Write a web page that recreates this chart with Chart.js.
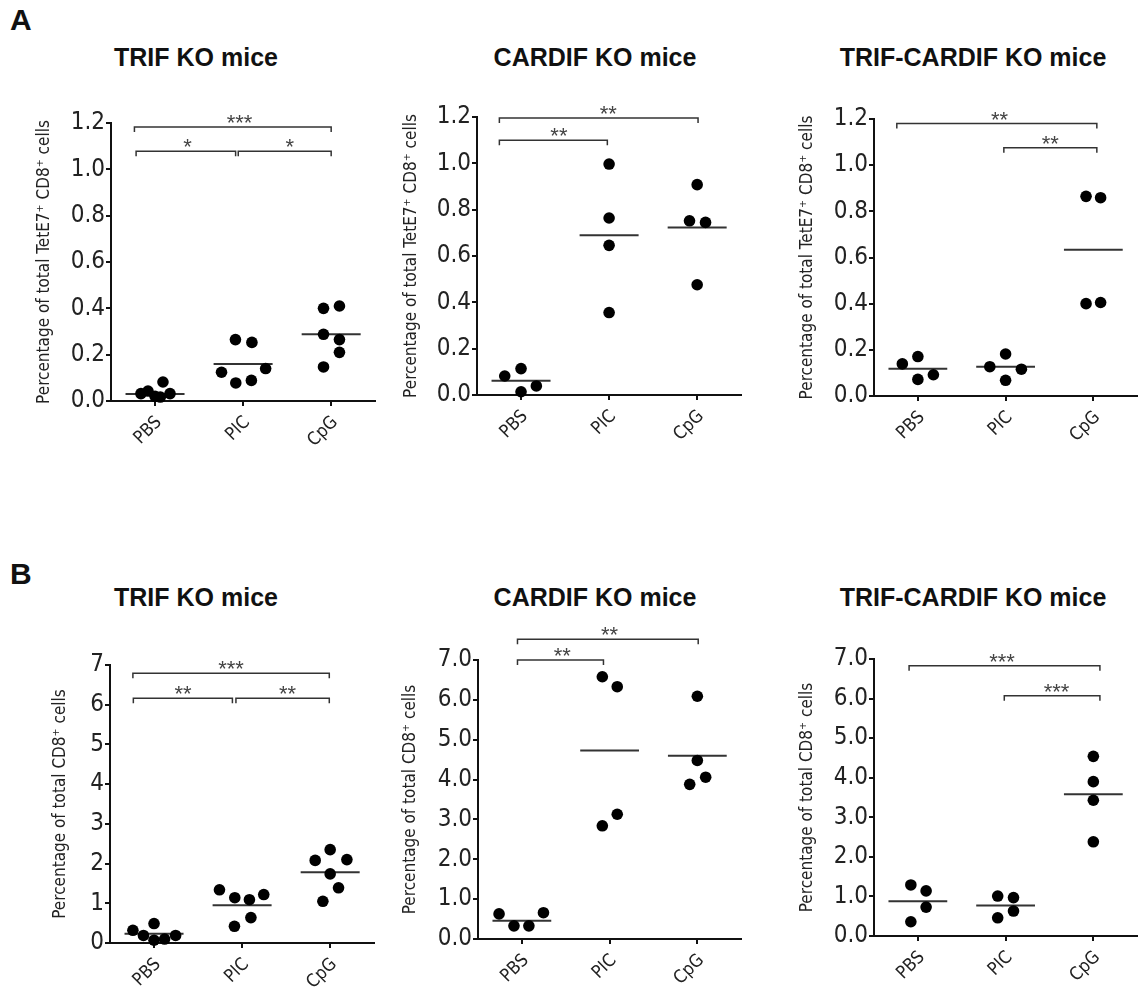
<!DOCTYPE html>
<html>
<head>
<meta charset="utf-8">
<script src="https://cdn.jsdelivr.net/npm/chart.js@4/dist/chart.umd.min.js"></script>
<style>
  body { margin: 0; background: #fff; width: 1142px; height: 994px; position: relative; overflow: hidden;
         font-family: "Liberation Sans", Arial, sans-serif; }
  canvas { position: absolute; }
  .ttl { position: absolute; font-weight: bold; font-size: 25px; line-height: 25px; color: #111;
         white-space: nowrap; transform: translateX(-50%); }
  .lt { position: absolute; font-weight: bold; font-size: 30px; line-height: 30px; color: #111; }
</style>
</head>
<body>
<div class="lt" style="left:10px;top:5px">A</div>
<div class="lt" style="left:10px;top:559px">B</div>
<div class="ttl" style="left:196px;top:45px">TRIF KO mice</div>
<div class="ttl" style="left:595px;top:45px">CARDIF KO mice</div>
<div class="ttl" style="left:973px;top:45px">TRIF-CARDIF KO mice</div>
<div class="ttl" style="left:196px;top:585px">TRIF KO mice</div>
<div class="ttl" style="left:595px;top:585px">CARDIF KO mice</div>
<div class="ttl" style="left:973px;top:585px">TRIF-CARDIF KO mice</div>

<script>
const groups = ['PBS', 'PIC', 'CpG'];
const titleA = 'Percentage of total TetE7\u207A CD8\u207A cells';
const titleB = 'Percentage of total CD8\u207A cells';

// A - TRIF KO
const a1PBS = [0.032, 0.043, 0.02, 0.082, 0.032, 0.017];
const a1PIC = [0.265, 0.253, 0.124, 0.078, 0.089, 0.14];
const a1CpG = [0.40, 0.41, 0.288, 0.265, 0.21, 0.147];
const a1Med = [0.03, 0.16, 0.288];
const a1Jit = [[-0.16, -0.08, 0, 0.09, 0.17, 0.06], [-0.087, 0.10, -0.245, -0.083, 0.094, 0.256], [-0.087, 0.094, -0.087, 0.094, 0.094, -0.087]];
const a1Br = [
  { x1: -0.234, x2: 2.0, y: 1.183, label: '***', lx: 0.96 },
  { x1: -0.215, x2: 0.915, y: 1.078, label: '*', lx: 0.37 },
  { x1: 0.945, x2: 2.0, y: 1.078, label: '*', lx: 1.53 }
];

// A - CARDIF KO
const a2PBS = [0.082, 0.114, 0.014, 0.039];
const a2PIC = [0.997, 0.764, 0.646, 0.356];
const a2CpG = [0.908, 0.752, 0.745, 0.476];
const a2Med = [0.062, 0.69, 0.723];
const a2Jit = [[-0.185, 0, 0, 0.174], [0, 0, 0, 0], [0, -0.087, 0.095, 0]];
const a2Br = [
  { x1: -0.246, x2: 2.01, y: 1.196, label: '**', lx: 0.99 },
  { x1: -0.246, x2: 0.98, y: 1.10, label: '**', lx: 0.43 }
];

// A - TRIF-CARDIF KO
const a3PBS = [0.139, 0.171, 0.072, 0.092];
const a3PIC = [0.127, 0.182, 0.068, 0.116];
const a3CpG = [0.865, 0.859, 0.40, 0.405];
const a3Med = [0.118, 0.127, 0.634];
const a3Jit = [[-0.177, 0, 0, 0.177], [-0.18, 0, 0, 0.18], [-0.083, 0.083, -0.083, 0.083]];
const a3Br = [
  { x1: -0.24, x2: 2.04, y: 1.18, label: '**', lx: 0.93 },
  { x1: 0.98, x2: 2.04, y: 1.075, label: '**', lx: 1.51 }
];

// B - TRIF KO
const b1PBS = [0.32, 0.49, 0.19, 0.07, 0.10, 0.19];
const b1PIC = [1.34, 1.14, 1.09, 1.22, 0.42, 0.64];
const b1CpG = [2.35, 2.08, 2.10, 1.74, 1.39, 1.05];
const b1Med = [0.235, 0.95, 1.78];
const b1Jit = [[-0.24, 0, -0.12, 0, 0.12, 0.245], [-0.257, -0.083, 0.083, 0.246, -0.087, 0.10], [0, -0.17, 0.19, 0, 0.095, -0.083]];
const b1Br = [
  { x1: -0.24, x2: 1.99, y: 6.79, label: '***', lx: 0.875 },
  { x1: -0.235, x2: 0.89, y: 6.16, label: '**', lx: 0.33 },
  { x1: 0.93, x2: 1.99, y: 6.16, label: '**', lx: 1.515 }
];

// B - CARDIF KO
const b2PBS = [0.63, 0.33, 0.33, 0.66];
const b2PIC = [6.58, 6.33, 2.84, 3.13];
const b2CpG = [6.09, 4.48, 3.88, 4.06];
const b2Med = [0.46, 4.73, 4.6];
const b2Jit = [[-0.26, -0.09, 0.08, 0.246], [-0.083, 0.087, -0.083, 0.087], [0, 0, -0.087, 0.095]];
const b2Br = [
  { x1: -0.05, x2: 2.01, y: 7.52, label: '**', lx: 1.0 },
  { x1: -0.05, x2: 0.93, y: 7.0, label: '**', lx: 0.46 }
];

// B - TRIF-CARDIF KO
const b3PBS = [1.29, 1.14, 0.73, 0.36];
const b3PIC = [1.01, 0.97, 0.63, 0.46];
const b3CpG = [4.54, 3.90, 3.43, 2.38];
const b3Med = [0.88, 0.77, 3.58];
const b3Jit = [[-0.08, 0.094, 0.094, -0.08], [-0.09, 0.09, 0.09, -0.09], [0, 0, 0, 0]];
const b3Br = [
  { x1: -0.1, x2: 2.075, y: 6.83, label: '***', lx: 0.96 },
  { x1: 0.985, x2: 2.075, y: 6.07, label: '***', lx: 1.58 }
];

// plot boxes (axis left, top, zero line, right) and where the axis title sits
const panels = [
  { L: 111, T: 122.7, B: 400.7, R: 376.5, max: 1.2, step: 0.2, dec: 1, yt: titleA, tOff: 66, vals: [a1PBS, a1PIC, a1CpG], jit: a1Jit, med: a1Med, br: a1Br },
  { L: 476.7, T: 117.3, B: 395, R: 742.7, max: 1.2, step: 0.2, dec: 1, yt: titleA, tOff: 65, vals: [a2PBS, a2PIC, a2CpG], jit: a2Jit, med: a2Med, br: a2Br },
  { L: 874.3, T: 119.3, B: 396, R: 1139, max: 1.2, step: 0.2, dec: 1, yt: titleA, tOff: 66, vals: [a3PBS, a3PIC, a3CpG], jit: a3Jit, med: a3Med, br: a3Br },
  { L: 110, T: 665, B: 942.7, R: 376, max: 7, step: 1, dec: 0, yt: titleB, tOff: 49, vals: [b1PBS, b1PIC, b1CpG], jit: b1Jit, med: b1Med, br: b1Br },
  { L: 477.7, T: 660, B: 939, R: 743, max: 7, step: 1, dec: 1, yt: titleB, tOff: 67, vals: [b2PBS, b2PIC, b2CpG], jit: b2Jit, med: b2Med, br: b2Br },
  { L: 874.3, T: 659.3, B: 936, R: 1139, max: 7, step: 1, dec: 1, yt: titleB, tOff: 66, vals: [b3PBS, b3PIC, b3CpG], jit: b3Jit, med: b3Med, br: b3Br }
];

Chart.defaults.font.family = '"Liberation Sans", Arial, sans-serif';
const narrow = '"Liberation Sans Narrow", "Arial Narrow", "DejaVu Sans Condensed", "Liberation Sans", sans-serif';

const YW = 80, PADTOP = 70, XH = 66, PADB = 4, PADR = 4;
const MED_HALF = 0.335;

// significance brackets, drawn through the chart's own scales
const bracketPlugin = {
  id: 'brackets',
  afterDatasetsDraw(chart, args, opts) {
    const { ctx, scales: { x, y } } = chart;
    ctx.save();
    opts.items.forEach(b => {
      const x1 = x.getPixelForValue(b.x1), x2 = x.getPixelForValue(b.x2), yy = y.getPixelForValue(b.y);
      ctx.strokeStyle = '#333';
      ctx.lineWidth = 1.5;
      ctx.beginPath();
      ctx.moveTo(x1, yy + 5); ctx.lineTo(x1, yy); ctx.lineTo(x2, yy); ctx.lineTo(x2, yy + 5);
      ctx.stroke();
      ctx.fillStyle = '#444';
      ctx.font = '22px "Liberation Sans", Arial, sans-serif';
      ctx.textAlign = 'center';
      ctx.textBaseline = 'alphabetic';
      ctx.fillText(b.label, x.getPixelForValue(b.lx), yy + 3);
    });
    ctx.restore();
  }
};

panels.forEach(p => {
  const cv = document.createElement('canvas');
  const left = Math.round(p.L - YW), top = Math.round(p.T - PADTOP);
  const w = Math.round(p.R - p.L + YW + PADR), h = Math.round(p.B - p.T + PADTOP + XH + PADB);
  cv.width = w; cv.height = h;
  cv.style.left = left + 'px'; cv.style.top = top + 'px';
  cv.style.width = w + 'px'; cv.style.height = h + 'px';
  document.body.appendChild(cv);

  const pts = [];
  p.vals.forEach((arr, g) => arr.forEach((v, k) => pts.push({ x: g + p.jit[g][k], y: v })));

  const datasets = [{
    data: pts, pointRadius: 5.8, pointBackgroundColor: '#000', pointBorderWidth: 0,
    showLine: false, clip: false
  }];
  p.med.forEach((m, g) => datasets.push({
    data: [{ x: g - MED_HALF, y: m }, { x: g + MED_HALF, y: m }],
    showLine: true, pointRadius: 0, borderColor: '#333', borderWidth: 2, clip: false
  }));

  const nT = Math.round(p.max / p.step);
  new Chart(cv, {
    type: 'scatter',
    data: { datasets },
    options: {
      responsive: false,
      animation: false,
      layout: { padding: { top: PADTOP, right: PADR, bottom: PADB, left: 0 } },
      plugins: { legend: { display: false }, tooltip: { enabled: false }, brackets: { items: p.br } },
      scales: {
        x: {
          type: 'linear', min: -0.5, max: 2.5,
          afterBuildTicks: s => { s.ticks = groups.map((g, i) => ({ value: i })); },
          afterFit: s => { s.height = XH; },
          ticks: { callback: v => groups[v], minRotation: 45, maxRotation: 45, autoSkip: false,
                   font: { size: 18, family: narrow }, color: '#222', padding: 6, labelOffset: 4 },
          grid: { drawOnChartArea: false, tickLength: 5, color: '#111', lineWidth: 2 },
          border: { color: '#111', width: 2 }
        },
        y: {
          min: 0, max: p.max,
          afterBuildTicks: s => {
            const t = [];
            for (let i = 0; i <= nT; i++) t.push({ value: +(i * p.step).toFixed(3) });
            s.ticks = t;
          },
          afterFit: s => { s.width = YW; },
          ticks: { callback: v => v.toFixed(p.dec), font: { size: 24, family: narrow }, color: '#222', padding: 1 },
          grid: { drawOnChartArea: false, tickLength: 5, color: '#111', lineWidth: 2 },
          border: { color: '#111', width: 2 },
          title: { display: true, text: p.yt, font: { size: 17, family: narrow }, color: '#222',
                   padding: { top: YW - p.tOff - 10.2, bottom: 0 } }
        }
      }
    },
    plugins: [bracketPlugin]
  });
});
</script>
</body>
</html>
